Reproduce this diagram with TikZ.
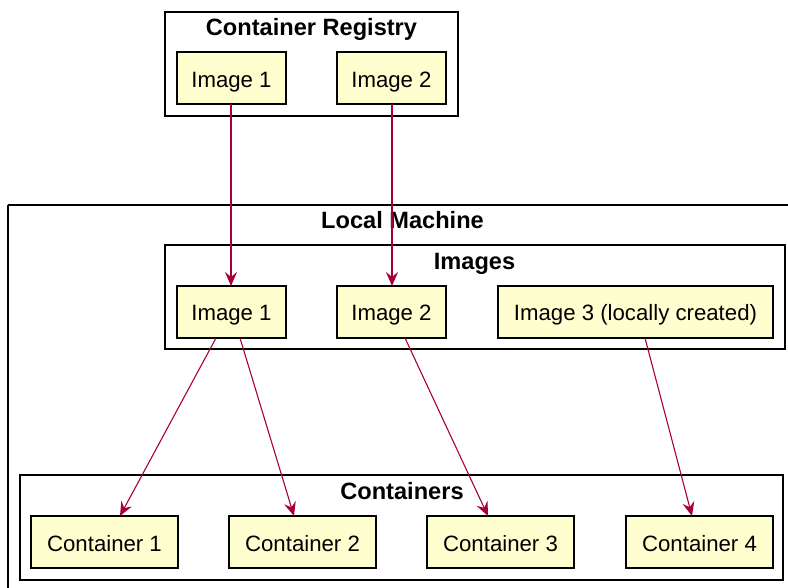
\documentclass[tikz,border=0pt]{standalone}
\usepackage{fontspec}
\setmainfont{Liberation Sans}
\usetikzlibrary{arrows.meta}
\definecolor{arrowred}{HTML}{A80036}
\definecolor{boxfill}{HTML}{FEFECE}
\tikzset{
  x=1pt, y=-1pt,
  frame/.style={draw=black, line width=1.8pt},
  item/.style={draw=black, line width=1.8pt, fill=boxfill},
  itemtext/.style={font=\fontsize{22.2}{24}\selectfont, anchor=base, inner sep=0pt},
  title/.style={font=\bfseries\fontsize{23.6}{26}\selectfont, anchor=base, inner sep=0pt},
  link/.style={draw=arrowred, line width=1.1pt,
    -{Stealth[length=14pt, width=12pt, inset=5pt]}},
}
\begin{document}
\begin{tikzpicture}
\useasboundingbox (0,0) rectangle (788,588);

% registry
\path[frame] (165,12) rectangle (458,116);
\node[title] (regtitle) at (311.5,35.5) {Container Registry};
\path[item] (177,52) rectangle (286,104);
\node[itemtext] (r1) at (231.5,87.5) {Image 1};
\path[item] (337,52) rectangle (446,104);
\node[itemtext] (r2) at (391.5,87.5) {Image 2};
\coordinate (r1s) at (231,104);
\coordinate (r2s) at (392,104);

% local machine
\path[frame] (8,205) -- (795,205) (8,205) -- (8,595);
\node[title] (lmtitle) at (402.5,229) {Local Machine};

% images
\path[frame] (165,245) rectangle (785,349);
\node[title] (imgtitle) at (474.5,269.5) {Images};
\path[item] (177,286) rectangle (286,338);
\node[itemtext] (i1) at (231.5,321) {Image 1};
\path[item] (337,286) rectangle (446,338);
\node[itemtext] (i2) at (391.5,321) {Image 2};
\path[item] (498,286) rectangle (773,338);
\node[itemtext] (i3) at (635.5,321) {Image 3 (locally created)};
\coordinate (i1n) at (231,286);
\coordinate (i2n) at (392,286);
\coordinate (i1a) at (216,338);
\coordinate (i1b) at (240,338);
\coordinate (i2s) at (405,338);
\coordinate (i3s) at (645,338);

% containers
\path[frame] (20,475) rectangle (783,580);
\node[title] (ctitle) at (402,499.5) {Containers};
\path[item] (31,516) rectangle (178,568);
\node[itemtext] (c1) at (104.5,551) {Container 1};
\path[item] (229,516) rectangle (376,568);
\node[itemtext] (c2) at (302.5,551) {Container 2};
\path[item] (427,516) rectangle (574,568);
\node[itemtext] (c3) at (500.5,551) {Container 3};
\path[item] (626,516) rectangle (773,568);
\node[itemtext] (c4) at (699.5,551) {Container 4};
\coordinate (c1n) at (120,516);
\coordinate (c2n) at (294,516);
\coordinate (c3n) at (488,516);
\coordinate (c4n) at (692,516);

% links
\draw[link] (r1s) -- (i1n);
\draw[link] (r2s) -- (i2n);
\draw[link] (i1a) -- (c1n);
\draw[link] (i1b) -- (c2n);
\draw[link] (i2s) -- (c3n);
\draw[link] (i3s) -- (c4n);
\end{tikzpicture}
\end{document}
